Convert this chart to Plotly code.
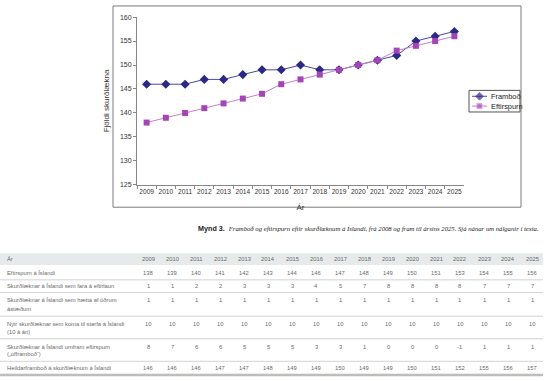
import plotly.graph_objects as go

years = list(range(2009, 2026))
year_labels = [str(y) for y in years]
frambod = [146, 146, 146, 147, 147, 148, 149, 149, 150, 149, 149, 150, 151, 152, 155, 156, 157]
eftirspurn = [138, 139, 140, 141, 142, 143, 144, 146, 147, 148, 149, 150, 151, 153, 154, 155, 156]
eftirlaun = [1, 1, 2, 2, 3, 3, 3, 4, 5, 7, 8, 8, 8, 8, 7, 7, 7]
haetta = [1] * 17
nyir = [10] * 17
umfram = [8, 7, 6, 6, 5, 5, 5, 3, 3, 1, 0, 0, 0, -1, 1, 1, 1]

row_labels = [
    ["Eftirspurn á Íslandi"],
    ["Skurðlæknar á Íslandi sem fara á eftirlaun"],
    ["Skurðlæknar á Íslandi sem hætta af öðrum", "ástæðum"],
    ["Nýir skurðlæknar sem koma til starfa á Íslandi", "(10 á ári)"],
    ["Skurðlæknar á Íslandi umfram eftirspurn", "(„offramboð“)"],
    ["Heildarframboð á skurðlæknum á Íslandi"],
]
row_values = [eftirspurn, eftirlaun, haetta, nyir, umfram, frambod]

series = [
    dict(name="Framboð", values=frambod, line="#4a46a6", marker="#2c2888", symbol="diamond", size=7),
    dict(name="Eftirspurn", values=eftirspurn, line="#c47ed2", marker="#a545b5", symbol="square", size=6),
]

W, H = 550, 381


def px(x):
    return x / W


def py(y):
    return 1 - y / H


fig = go.Figure()
for s in series:
    fig.add_trace(go.Scatter(
        x=year_labels, y=s["values"], name=s["name"], mode="lines+markers",
        line=dict(color=s["line"], width=1),
        marker=dict(symbol=s["symbol"], size=s["size"], color=s["marker"]),
        showlegend=False,
    ))

shapes = []
annotations = []

# chart frame
shapes.append(dict(type="rect", xref="paper", yref="paper",
                   x0=px(113), x1=px(521), y0=py(207), y1=py(2),
                   line=dict(color="#7a7a7a", width=1), fillcolor="rgba(0,0,0,0)", layer="below"))

# legend (drawn as a small key box)
shapes.append(dict(type="rect", xref="paper", yref="paper",
                   x0=px(469), x1=px(520), y0=py(110), y1=py(88),
                   line=dict(color="#555", width=1), fillcolor="white", layer="below"))
for i, s in enumerate(series):
    ky = 94 + 10 * i
    fig.add_trace(go.Scatter(
        x=[472, 479.5, 487], y=[ky, ky, ky], mode="lines+markers",
        line=dict(color=s["line"], width=1),
        marker=dict(symbol=s["symbol"], size=[0, s["size"] - 1, 0], color=s["marker"]),
        xaxis="x2", yaxis="y2", showlegend=False, hoverinfo="skip",
    ))
    annotations.append(dict(xref="x2", yref="y2", x=489, y=ky, xanchor="left", yanchor="middle",
                            showarrow=False, text=s["name"],
                            font=dict(family="Liberation Sans", size=7.4, color="#222")))

# caption
annotations.append(dict(
    xref="paper", yref="paper", x=px(541), y=py(229), xanchor="right", yanchor="middle",
    showarrow=False,
    text="<b>Mynd 3.</b>  <span style='font-family:Liberation Serif;font-size:6.7px'><i>Framboð og eftirspurn eftir skurðlæknum á Íslandi, frá 2008 og fram til ársins 2025. Sjá nánar um nálganir í texta.</i></span>",
    font=dict(family="Liberation Sans", size=7.2, color="#222"),
))

# table
tbl_left, tbl_right = 0, 543
col_x = [148 + 24 * i for i in range(17)]
tfont = dict(family="Liberation Sans", size=5.8, color="#6a6a6a")
shapes.append(dict(type="rect", xref="paper", yref="paper",
                   x0=px(tbl_left), x1=px(tbl_right), y0=py(266), y1=py(254),
                   line=dict(width=0), fillcolor="#e6eaea", layer="below"))
annotations.append(dict(xref="paper", yref="paper", x=px(5), y=py(260), xanchor="left",
                        yanchor="middle", showarrow=False, text="Ár", font=tfont))
for cx, lab in zip(col_x, year_labels):
    annotations.append(dict(xref="paper", yref="paper", x=px(cx), y=py(260), xanchor="center",
                            yanchor="middle", showarrow=False, text=lab, font=tfont))

row_text_y = [[274], [287], [302, 311], [326, 334], [349, 357], [371]]
row_line_y = [281, 294, 318, 341, 364]
for labels, ys, vals in zip(row_labels, row_text_y, row_values):
    for lab, yy in zip(labels, ys):
        annotations.append(dict(xref="paper", yref="paper", x=px(5), y=py(yy), xanchor="left",
                                yanchor="middle", showarrow=False, text=lab, font=tfont))
    for cx, v in zip(col_x, vals):
        annotations.append(dict(xref="paper", yref="paper", x=px(cx), y=py(ys[0]), xanchor="center",
                                yanchor="middle", showarrow=False, text=str(v), font=tfont))
for ly in row_line_y:
    shapes.append(dict(type="line", xref="paper", yref="paper",
                       x0=px(tbl_left), x1=px(tbl_right), y0=py(ly), y1=py(ly),
                       line=dict(color="#c8c8c8", width=0.8)))
shapes.append(dict(type="line", xref="paper", yref="paper",
                   x0=px(tbl_left), x1=px(tbl_right), y0=py(378), y1=py(378),
                   line=dict(color="#bdbdbd", width=2.5)))

fig.update_layout(
    width=W, height=H,
    margin=dict(l=0, r=0, t=0, b=0),
    paper_bgcolor="white", plot_bgcolor="white",
    font=dict(family="Liberation Sans", size=7, color="#333"),
    showlegend=False,
    xaxis=dict(domain=[px(137), px(464)], type="category",
               range=[-0.5, 16.5], showline=True, linecolor="#888", linewidth=1,
               ticks="outside", ticklen=3, tickcolor="#888", tickson="boundaries",
               tickangle=0,
               showgrid=False, zeroline=False,
               tickfont=dict(size=6.6, color="#333"),
               title=dict(text="Ár", font=dict(size=8, color="#333"), standoff=10)),
    yaxis=dict(domain=[py(184.3), py(13.3)], range=[125, 160], dtick=5,
               showline=True, linecolor="#888", linewidth=1,
               ticks="outside", ticklen=3, tickcolor="#888",
               showgrid=False, zeroline=False,
               tickfont=dict(size=7, color="#333"),
               title=dict(text="Fjöldi skurðlækna", font=dict(size=8, color="#333"), standoff=9)),
    xaxis2=dict(domain=[px(469), px(520)], range=[469, 520], anchor="y2",
                visible=False, fixedrange=True),
    yaxis2=dict(domain=[py(110), py(88)], range=[110, 88], anchor="x2",
                visible=False, fixedrange=True),
    shapes=shapes,
    annotations=annotations,
)

fig.write_html("out.html", config={"displayModeBar": False},
               post_script="document.body.style.margin='0';document.body.style.overflow='hidden';")
